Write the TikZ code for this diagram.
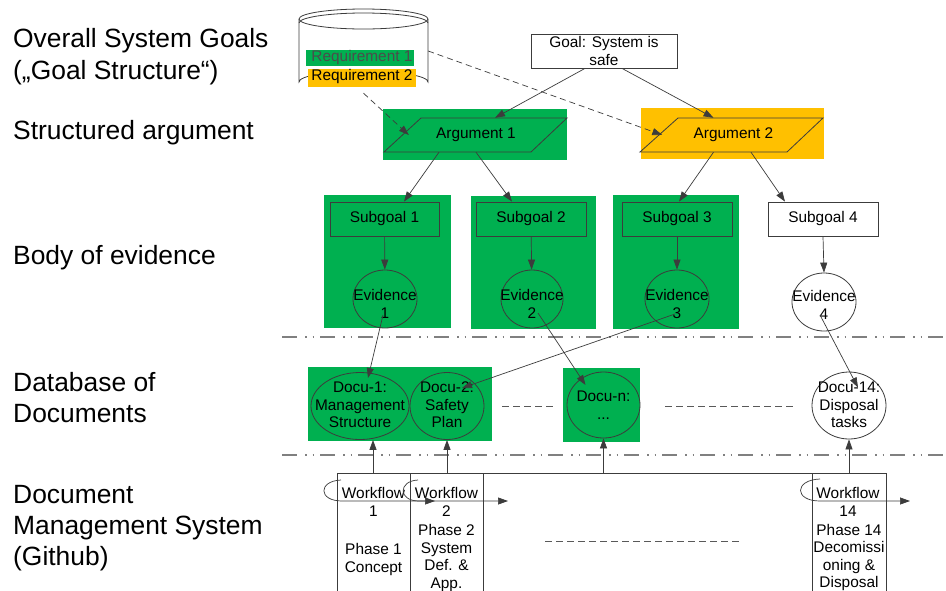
\documentclass[tikz,border=0pt]{standalone}
\usepackage{fontspec}
\setmainfont{Liberation Sans}
\usetikzlibrary{arrows.meta,calc,shapes.geometric}
\definecolor{grn}{RGB}{0,176,80}
\definecolor{org}{RGB}{255,192,0}
\definecolor{ln}{RGB}{60,60,60}
\definecolor{sepc}{RGB}{128,128,128}
\begin{document}
\begin{tikzpicture}[x=1pt,y=-1pt,
  every node/.style={font=\fontsize{15.4}{17.4}\selectfont, inner sep=0pt, align=center, text=black},
  boxs/.style={draw=ln, line width=0.8pt, rectangle, minimum height=34pt},
  ell/.style={draw=ln, line width=0.8pt, ellipse},
  arr/.style={draw=ln, line width=0.7pt, -{Triangle[length=10pt,width=7pt]}},
  darr/.style={arr, dash pattern=on 6pt off 4pt},
  sepl/.style={draw=sepc, line width=1.4pt, dash pattern=on 15pt off 8pt on 1.5pt off 6pt on 1.5pt off 6pt},
  dsh/.style={draw=ln!85, line width=0.9pt, dash pattern=on 7pt off 4pt},
  lbl/.style={font=\fontsize{26.4}{31}\selectfont, anchor=base west, align=left},
  thin/.style={draw=ln, line width=0.8pt}]
\useasboundingbox (0,0) rectangle (946,590);
\fill[white] (0,0) rectangle (946,590);

% left labels
\node[lbl] (l1) at (13,47) {Overall System Goals};
\node[lbl] (l2) at (13,79) {(„Goal Structure“)};
\node[lbl] (l3) at (13,139) {Structured argument};
\node[lbl] (l4) at (13,264) {Body of evidence};
\node[lbl] (l5) at (13,391) {Database of};
\node[lbl] (l6) at (13,422) {Documents};
\node[lbl] (l7) at (13,503) {Document};
\node[lbl] (l8) at (13,534) {Management System};
\node[lbl] (l9) at (13,565) {(Github)};

% separators
\coordinate (s1a) at (282,337); \coordinate (s1b) at (946,337);
\coordinate (s2a) at (282,455); \coordinate (s2b) at (946,455);
\draw[sepl] (s1a) -- (s1b);
\draw[sepl] (s2a) -- (s2b);

% cylinder
\draw[thin, fill=white] (299,19) -- (299,82) arc[start angle=180, end angle=360, x radius=64.5, y radius=11] -- (428,19);
\draw[thin, fill=white] (363.5,19) ellipse[x radius=64.5, y radius=10];
\draw[thin] (299,23) arc[start angle=180, end angle=360, x radius=64.5, y radius=10];
\node[draw=none, minimum width=129pt, minimum height=84pt] (req) at (363.5,51) {};
\fill[grn] (306,50) rectangle (414,66);
\fill[org] (308,69) rectangle (416,87);
\node[text=black!70] (r1) at (362,58) {Requirement 1};
\node (r2) at (362,77) {Requirement 2};

% goal
\node[boxs, fill=white, minimum width=146pt] (goal) at (604,51) {Goal: System is\\safe};

% arguments
\fill[grn] (383,109) rectangle (567,160);
\draw[thin] (384,152) -- (531,152) -- (567,118) -- (421,118) -- cycle;
\node[minimum width=110pt, minimum height=34pt] (arg1) at (476,135) {Argument 1};
\fill[org] (641,108) rectangle (824,159);
\draw[thin] (640,152) -- (787,152) -- (823,118) -- (678,118) -- cycle;
\node[minimum width=110pt, minimum height=34pt] (arg2) at (733.5,135) {Argument 2};

% subgoal backgrounds
\fill[grn] (324,195) rectangle (451,328);
\fill[grn] (471,196) rectangle (596,329);
\fill[grn] (613,195) rectangle (739,329);

% subgoals
\node[boxs, minimum width=109pt] (sg1) at (384.5,219) {Subgoal 1};
\node[boxs, minimum width=110pt] (sg2) at (531,219) {Subgoal 2};
\node[boxs, minimum width=110pt] (sg3) at (677,219) {Subgoal 3};
\node[boxs, fill=white, minimum width=110pt] (sg4) at (823,219) {Subgoal 4};

% evidences
\node[ell, minimum width=64pt, minimum height=58pt] (ev1) at (385,299) {};
\node[ell, minimum width=62pt, minimum height=58pt] (ev2) at (532,299) {};
\node[ell, minimum width=64pt, minimum height=58pt] (ev3) at (677,299) {};
\node[ell, fill=white, minimum width=64pt, minimum height=58pt] (ev4) at (824,302) {};
\node (ev1t) at (385,304) {Evidence\\1};
\node (ev2t) at (532,304) {Evidence\\2};
\node (ev3t) at (677,304) {Evidence\\3};
\node (ev4t) at (824,305) {Evidence\\4};

% documents
\fill[grn] (308,367) rectangle (492,441);
\fill[grn] (563,368) rectangle (640,442);
\node[ell, minimum width=98pt, minimum height=67pt] (d1) at (360,406) {};
\node[ell, minimum width=74pt, minimum height=67pt] (d2) at (447,406) {};
\node[ell, minimum width=73pt, minimum height=66pt] (dn) at (603.5,405) {};
\node[ell, fill=white, minimum width=74pt, minimum height=67pt] (d14) at (849,405.5) {};
\node (d1t) at (360,405) {Docu-1:\\Management\\Structure};
\node (d2t) at (447,405) {Docu-2:\\Safety\\Plan};
\node (dnt) at (603.5,405) {Docu-n:\\...};
\node (d14t) at (849,405) {Docu-14:\\Disposal\\tasks};
\coordinate (dl1a) at (502,406); \coordinate (dl1b) at (553,406);
\coordinate (dl2a) at (665,406); \coordinate (dl2b) at (795,406);
\coordinate (dl3a) at (545,541); \coordinate (dl3b) at (740,541);
\draw[dsh] (dl1a) -- (dl1b);
\draw[dsh] (dl2a) -- (dl2b);
\draw[dsh] (dl3a) -- (dl3b);

% workflow / phase boxes
\coordinate (top1) at (337,473); \coordinate (top2) at (886,473);
\draw[thin] (top1) -- (top2);
\draw[thin] (337,473) -- (337,592);
\draw[thin] (410,473) -- (410,592);
\draw[thin] (483,473) -- (483,592);
\draw[thin] (812,473) -- (812,592);
\draw[thin] (886,473) -- (886,592);
\node (w1) at (373.5,502) {Workflow\\1};
\node (w2) at (446.5,502) {Workflow\\2};
\node (w14) at (848,502) {Workflow\\14};
\node (p1) at (373.5,559.5) {Phase 1\\Concept};
\node (p2) at (446.5,558) {Phase 2\\System\\Def. \&\\App.};
\node (p14) at (849,557.5) {Phase 14\\Decomissi\\oning \&\\Disposal};

% loop arrows
\coordinate (wf1a) at (341,480); \coordinate (wf1b) at (342,501); \coordinate (wf1c) at (435,501);
\coordinate (wf2a) at (418,480); \coordinate (wf2b) at (419,501); \coordinate (wf2c) at (508,501);
\coordinate (wf14a) at (820,479); \coordinate (wf14b) at (820,501); \coordinate (wf14c) at (910,501);
\draw[arr] (wf1a) .. controls (318,481) and (318,501) .. (wf1b) -- (wf1c);
\draw[arr] (wf2a) .. controls (398,481) and (398,501) .. (wf2b) -- (wf2c);
\draw[arr] (wf14a) .. controls (794,480) and (794,501) .. (wf14b) -- (wf14c);

% up arrows
\coordinate (u1) at (373,473); \coordinate (u2) at (447,473);
\coordinate (un) at (603.5,473); \coordinate (u14) at (849,473);
\draw[arr] (u1) -- (u1 |- d1.south);
\draw[arr] (u2) -- (d2.south);
\draw[arr] (un) -- (dn.south);
\draw[arr] (u14) -- (d14.south);

% argument structure arrows
\draw[arr] ($(goal.south)+(-19,0)$) -- ($(arg1.north)+(19,0)$);
\draw[arr] ($(goal.south)+(18,0)$) -- ($(arg2.north)+(-20,0)$);
\draw[darr] ($(req.south)+(0,0)$) -- ($(arg1.west)+(-12,0)$);
\draw[darr] ($(req.east)+(0,0)$) -- ($(arg2.west)+(-16,0)$);
\draw[arr] ($(arg1.south)+(-37,0)$) -- ($(sg1.north)+(19.5,0)$);
\draw[arr] (arg1.south) -- ($(sg2.north)+(-19,0)$);
\draw[arr] ($(arg2.south)+(-20,0)$) -- ($(sg3.north)+(2,0)$);
\draw[arr] ($(arg2.south)+(17.5,0)$) -- ($(sg4.north)+(-38,0)$);

\draw[arr] (sg1) -- (ev1);
\draw[arr] (sg2) -- (ev2);
\draw[arr] (sg3) -- (ev3);
\draw[arr] (sg4.south) -- (ev4.north);

% evidence to document arrows
\draw[arr] ($(ev1.center)+(-2,16)$) -- ($(d1.center)+(8,-28)$);
\draw[arr] ($(ev3.center)+(-2,15)$) -- ($(d2.center)+(15,-18)$);
\draw[arr] ($(ev2.center)+(6,14)$) -- ($(dn.center)+(-18,-20)$);
\draw[arr] ($(ev4.center)+(-4,13)$) -- ($(d14.center)+(9,-18)$);
\end{tikzpicture}
\end{document}
